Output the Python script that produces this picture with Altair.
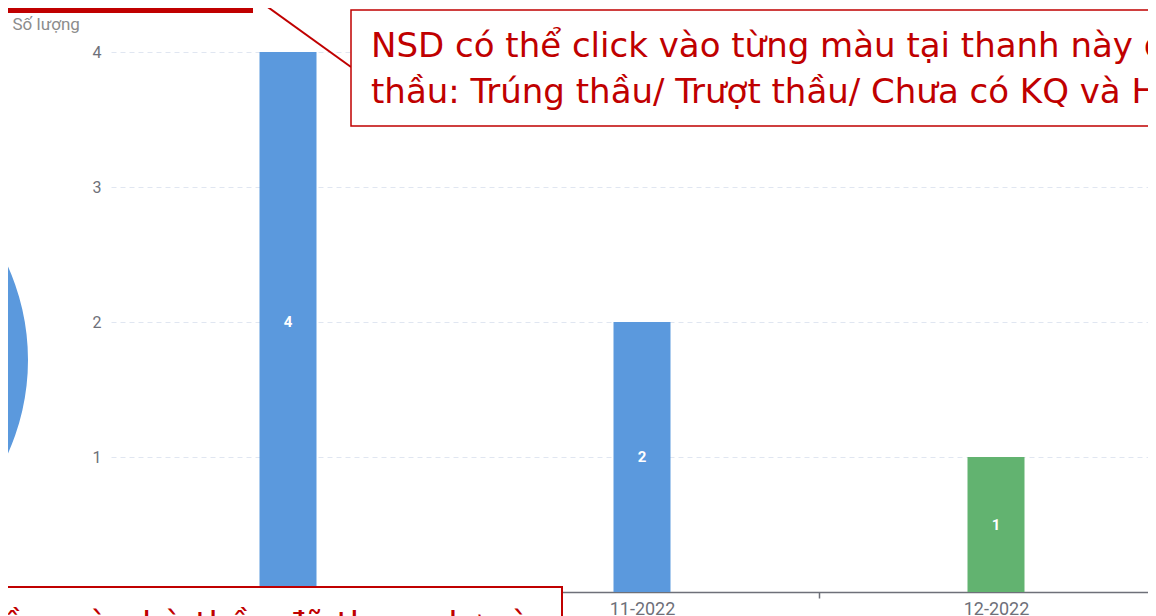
import altair as alt
import pandas as pd

# ---- data ----
months = ["10-2022", "11-2022", "12-2022"]
counts = [4, 2, 1]
statuses = ["Trượt thầu", "Trượt thầu", "Trúng thầu"]

pie_status = ["Trượt thầu", "Trúng thầu"]
pie_values = [6, 1]
pie_order = [0, 1]

status_domain = ["Trượt thầu", "Trúng thầu"]
status_colors = ["#5b99dd", "#62b370"]

y_ticks = [0, 1, 2, 3, 4]

note_top_1 = "NSD có thể click vào từng màu tại thanh này để xem chi tiết các gói"
note_top_2 = "thầu: Trúng thầu/ Trượt thầu/ Chưa có KQ và Hủy thầu"
note_bottom = "Số gói thầu mà nhà thầu đã tham dự và"

RED = "#c00000"
AXIS = "#6e7079"
NOTE_FONT = "DejaVu Sans"

# plot origin on the page (used for annotation placement only)
OX, OY = 111, 52


def px(v):
    return v - OX


def py(v):
    return v - OY


bars_df = pd.DataFrame({"month": months, "count": counts, "status": statuses})
pie_df = pd.DataFrame({"status": pie_status, "value": pie_values, "ord": pie_order})
one = pd.DataFrame({"k": [0]})

color_scale = alt.Scale(domain=status_domain, range=status_colors)

x_axis = alt.Axis(
    labelAngle=0,
    labelFontSize=18,
    labelColor=AXIS,
    labelFont="Roboto",
    labelPadding=2,
    domainColor=AXIS,
    domainWidth=1.5,
    tickColor=AXIS,
    tickSize=6,
    tickWidth=1.5,
    tickBand="extent",
    grid=False,
)
x_scale = alt.Scale(paddingInner=0, paddingOuter=0, range=[0, 1062])

y_axis = alt.Axis(
    values=y_ticks,
    title="Số lượng",
    titleAngle=0,
    titleAlign="left",
    titleBaseline="alphabetic",
    titleX=-99,
    titleY=-23,
    titleFontSize=17,
    titleFontWeight="normal",
    titleColor="#8c8c8c",
    titleFont="Roboto",
    labelFontSize=16,
    labelColor=AXIS,
    labelFont="Roboto",
    labelPadding=10,
    domain=False,
    ticks=False,
    grid=True,
    gridColor="#e0e6f1",
    gridDash=[5, 4],
    gridWidth=1,
)
y_scale = alt.Scale(domain=[0, 4], nice=False)

bars = alt.Chart(bars_df).mark_bar(size=57).encode(
    x=alt.X("month:N", sort=months, title=None, scale=x_scale, axis=x_axis),
    y=alt.Y("count:Q", title="Số lượng", scale=y_scale, axis=y_axis),
    color=alt.Color("status:N", scale=color_scale, legend=None),
)

bar_labels = (
    alt.Chart(bars_df)
    .transform_calculate(mid="datum.count / 2")
    .mark_text(color="white", fontSize=15, font="Roboto", fontWeight="bold", baseline="middle")
    .encode(
        x=alt.X("month:N", sort=months, title=None, scale=x_scale, axis=x_axis),
        y=alt.Y("mid:Q", title="Số lượng", scale=y_scale, axis=y_axis),
        text=alt.Text("count:Q"),
    )
)

pie = (
    alt.Chart(pie_df)
    .mark_arc(radius=228)
    .encode(
        theta=alt.Theta("value:Q", stack=True),
        color=alt.Color("status:N", scale=color_scale, legend=None),
        order=alt.Order("ord:Q"),
        x=alt.value(px(-200)),
        y=alt.value(py(360)),
    )
)

# ---- annotation callouts ----
top_left_box = alt.Chart(one).mark_rect(fillOpacity=0, stroke=RED, strokeWidth=6).encode(
    x=alt.value(px(-100)), x2=alt.value(px(250)), y=alt.value(py(-100)), y2=alt.value(py(10))
)

pointer = alt.Chart(one).mark_rule(color=RED, strokeWidth=2).encode(
    x=alt.value(px(258)), y=alt.value(py(0)), x2=alt.value(px(351)), y2=alt.value(py(67))
)

top_box = alt.Chart(one).mark_rect(fill="white", stroke=RED, strokeWidth=1.5).encode(
    x=alt.value(px(351)), x2=alt.value(px(1400)), y=alt.value(py(10)), y2=alt.value(py(126))
)

top_text_1 = alt.Chart(one).mark_text(
    align="left", baseline="alphabetic", font=NOTE_FONT, fontSize=34, color=RED
).encode(x=alt.value(px(371)), y=alt.value(py(57)), text=alt.value(note_top_1))

top_text_2 = alt.Chart(one).mark_text(
    align="left", baseline="alphabetic", font=NOTE_FONT, fontSize=34, color=RED
).encode(x=alt.value(px(371)), y=alt.value(py(103)), text=alt.value(note_top_2))

bottom_box = alt.Chart(one).mark_rect(fill="white", stroke=RED, strokeWidth=2).encode(
    x=alt.value(px(-100)), x2=alt.value(px(562)), y=alt.value(py(587)), y2=alt.value(py(720))
)

bottom_text = alt.Chart(one).mark_text(
    align="right", baseline="alphabetic", font=NOTE_FONT, fontSize=34, color=RED
).encode(x=alt.value(px(531)), y=alt.value(py(636)), text=alt.value(note_bottom))

chart = (
    alt.layer(
        bars,
        bar_labels,
        pie,
        top_left_box,
        pointer,
        top_box,
        top_text_1,
        top_text_2,
        bottom_box,
        bottom_text,
    )
    .properties(
        width=1037,
        height=540,
        padding={"left": 103, "top": 44, "right": 0, "bottom": 100},
        autosize=alt.AutoSizeParams(type="none"),
        background="white",
    )
    .configure_view(stroke=None)
)

chart.save("out.html", embed_options={"renderer": "svg", "actions": False})
